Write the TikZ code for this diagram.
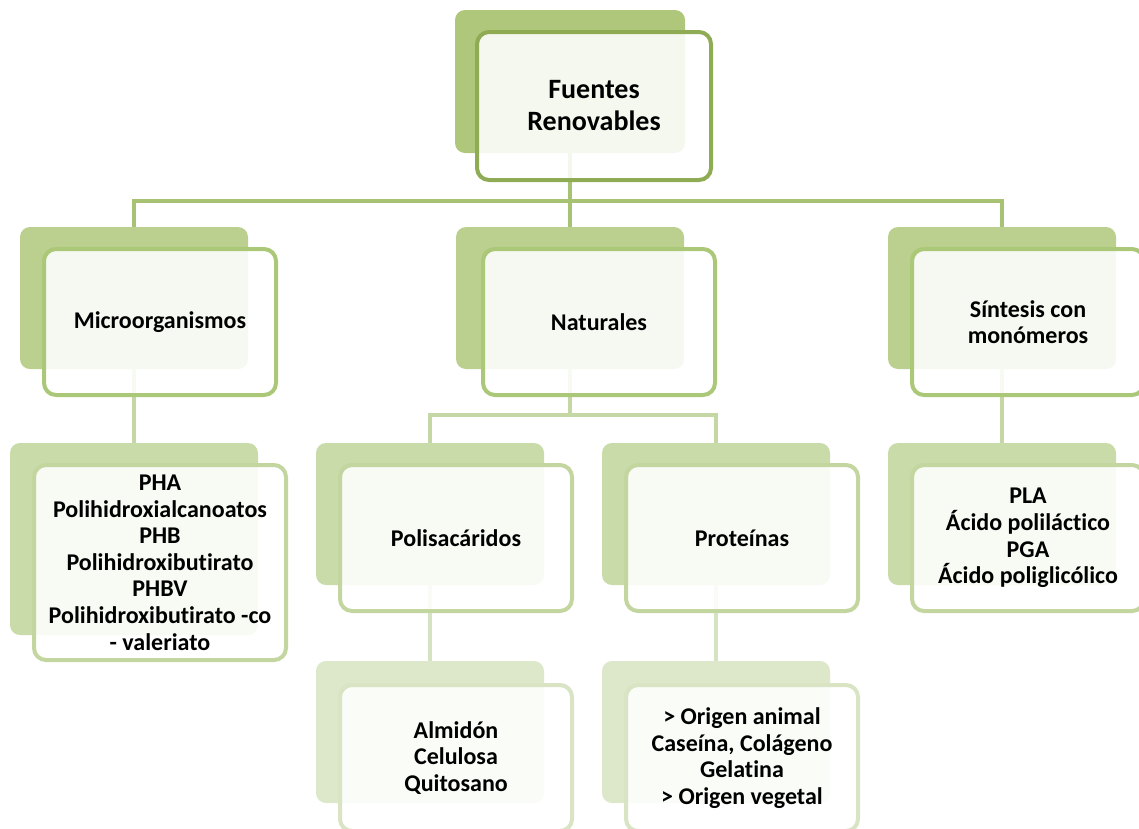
\documentclass[tikz,border=0pt]{standalone}
\usepackage{fontspec}
\setmainfont{Carlito}[Ligatures=NoCommon]
\usetikzlibrary{backgrounds}

\definecolor{backA}{HTML}{AEC77A}
\definecolor{backB}{HTML}{BBD08E}
\definecolor{backC}{HTML}{C9DBA9}
\definecolor{backD}{HTML}{DDE8CA}
\definecolor{lineA}{HTML}{8FAC55}
\definecolor{lineB}{HTML}{ABC778}
\definecolor{lineC}{HTML}{C3D6A0}
\definecolor{lineD}{HTML}{D8E4C4}
\definecolor{linkA}{HTML}{A6C272}
\definecolor{linkB}{HTML}{C4D7A4}
\definecolor{linkC}{HTML}{D6E3C2}

\tikzset{
  back/.style={fill=#1, rounded corners=10pt, inner sep=0pt,
    minimum width=228pt, minimum height=142pt},
  front/.style={draw=#1, line width=4pt, fill=white, fill opacity=0.88,
    text opacity=1, rounded corners=12pt, inner sep=0pt, align=center,
    minimum width=232pt, minimum height=146pt,
    font=\bfseries\fontsize{24}{26.6}\selectfont},
  link/.style={draw=#1, line width=4.5pt}
}

\begin{document}
\begin{tikzpicture}[x=1pt, y=-1pt]
	\useasboundingbox (0,0) rectangle (1139,828);
	% top
	\node[back=backA, minimum width=230pt, minimum height=143pt] (fuentesB) at (570,81.5) {};
	\node[front=lineA, minimum width=234pt, minimum height=148pt,
	  font=\bfseries\fontsize{28}{32}\selectfont] (fuentes) at (594,106) {Fuentes\\Renovables};
	% second row
	\node[back=backB] (microB) at (134,298) {};
	\node[front=lineB] (micro) at (160,322) {Microorganismos};
	\node[back=backB] (naturB) at (570,298) {};
	\node[front=lineB] (natur) at (599,322) {Naturales};
	\node[back=backB] (sintB) at (1002,298) {};
	\node[front=lineB] (sint) at (1028,322) {Síntesis con\\monómeros};
	% third row
	\node[back=backC, minimum width=248pt, minimum height=192pt] (phaB) at (134,539) {};
	\node[front=lineC, minimum width=252pt, minimum height=195pt] (pha) at (160,562.5)
	  {PHA\\Polihidroxialcanoatos\\PHB\\Polihidroxibutirato\\PHBV\\Polihidroxibutirato -co\\- valeriato};
	\node[back=backC] (poliB) at (430,514) {};
	\node[front=lineC] (poli) at (456,538) {Polisacáridos};
	\node[back=backC] (protB) at (716,514) {};
	\node[front=lineC] (prot) at (742,538) {Proteínas};
	\node[back=backC] (plaB) at (1002,514) {};
	\node[front=lineC] (pla) at (1028,538) {PLA\\Ácido poliláctico\\PGA\\Ácido poliglicólico};
	% last row
	\node[back=backD] (almB) at (430,732) {};
	\node[front=lineD] (alm) at (456,758) {Almidón\\Celulosa\\Quitosano};
	\node[back=backD] (gelB) at (716,732) {};
	\node[front=lineD] (gel) at (742,758) {> Origen animal\\Caseína, Colágeno\\Gelatina\\> Origen vegetal};

	\begin{scope}[on background layer]
		\coordinate (busA) at (570,201);
		\coordinate (busB) at (570,415);
		\draw[link=linkA] (fuentesB.south) -- (naturB.north);
		\draw[link=linkA] (microB.north) |- (busA) -| (sintB.north);
		\draw[link=linkB] (microB.south) -- (phaB.north);
		\draw[link=linkB] (naturB.south) -- (busB);
		\draw[link=linkB] (poliB.north) |- (busB) -| (protB.north);
		\draw[link=linkB] (sintB.south) -- (plaB.north);
		\draw[link=linkC] (poliB.south) -- (almB.north);
		\draw[link=linkC] (protB.south) -- (gelB.north);
	\end{scope}
\end{tikzpicture}
\end{document}
